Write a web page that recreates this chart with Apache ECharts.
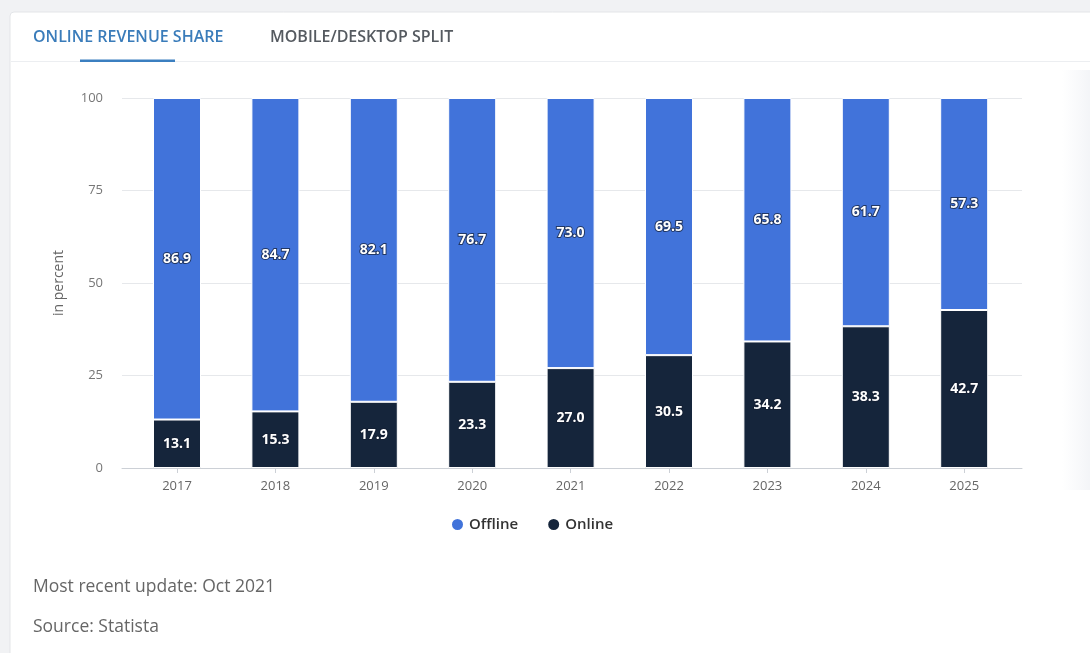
<!DOCTYPE html>
<html>
<head>
<meta charset="utf-8">
<script src="https://cdn.jsdelivr.net/npm/echarts@6/dist/echarts.min.js"></script>
<style>
html,body{margin:0;padding:0;background:#f1f2f4;}
#chart{width:1090px;height:653px;}
</style>
</head>
<body>
<div id="chart"></div>
<script>
const categories = ['2017','2018','2019','2020','2021','2022','2023','2024','2025'];
const offline = [86.9, 84.7, 82.1, 76.7, 73.0, 69.5, 65.8, 61.7, 57.3];
const online = [13.1, 15.3, 17.9, 23.3, 27.0, 30.5, 34.2, 38.3, 42.7];
const yTicks = [0, 25, 50, 75, 100];
const tabs = ['ONLINE REVENUE SHARE', 'MOBILE/DESKTOP SPLIT'];
const footer = ['Most recent update: Oct 2021', 'Source: Statista'];

const FONT = '"Open Sans", "Noto Sans", sans-serif';
const chart = echarts.init(document.getElementById('chart'), null, {renderer: 'canvas'});

const labelStyle = {
  show: true,
  position: 'inside',
  color: '#fff',
  fontFamily: FONT,
  fontWeight: 'bold',
  fontSize: 14,
  textBorderColor: 'rgba(20,30,50,0.7)',
  textBorderWidth: 2,
  formatter: p => p.value.toFixed(1)
};

chart.setOption({
  backgroundColor: 'transparent',
  animation: false,
  textStyle: {fontFamily: FONT},
  graphic: [
    {type: 'rect', shape: {x: 10, y: 12, width: 1100, height: 700, r: 4},
     style: {fill: '#fff', stroke: '#e3e5e8', lineWidth: 1}, z: -10},
    {type: 'rect', shape: {x: 1062, y: 70, width: 40, height: 420},
     style: {fill: new echarts.graphic.LinearGradient(0,0,1,0,[{offset:0,color:'rgba(240,242,246,0)'},{offset:1,color:'#eef0f4'}])}, z: -9},
    {type: 'rect', shape: {x: 11, y: 61, width: 1090, height: 1}, style: {fill: '#eceef1'}, z: -8},
    {type: 'rect', shape: {x: 80, y: 59.5, width: 95, height: 2.5}, style: {fill: '#3b7fc0'}, z: -7},
    {type: 'text', x: 33, y: 37, style: {text: tabs[0], fill: '#3a7cba', font: '600 16px ' + FONT, textVerticalAlign: 'middle'}},
    {type: 'text', x: 270, y: 37, style: {text: tabs[1], fill: '#555a60', font: '600 16px ' + FONT, textVerticalAlign: 'middle'}},
    {type: 'text', x: 33, y: 587, style: {text: footer[0], fill: '#666', font: '17.5px ' + FONT, textVerticalAlign: 'middle'}},
    {type: 'text', x: 33, y: 627, style: {text: footer[1], fill: '#666', font: '17.5px ' + FONT, textVerticalAlign: 'middle'}}
  ],
  legend: {
    data: ['Offline', 'Online'],
    bottom: 116,
    left: 445,
    icon: 'circle',
    itemWidth: 13,
    itemHeight: 13,
    itemGap: 28,
    textStyle: {fontFamily: FONT, fontSize: 15, color: '#333', fontWeight: 600}
  },
  grid: [
    {left: 127.8, right: 76.6, top: 98, bottom: 185},
    {left: 122, right: 68, top: 98, bottom: 185}
  ],
  xAxis: [
    {
      type: 'category', data: categories, gridIndex: 0,
      axisLine: {show: false},
      axisTick: {show: true, alignWithLabel: true, length: 5, lineStyle: {color: '#ccd0d6'}},
      axisLabel: {color: '#666', fontSize: 13, margin: 12, fontFamily: FONT}
    },
    {
      type: 'category', data: categories, gridIndex: 1, show: true,
      axisLine: {show: true, lineStyle: {color: '#ccd0d6'}},
      axisTick: {show: false}, axisLabel: {show: false}
    }
  ],
  yAxis: [
    {type: 'value', gridIndex: 0, min: 0, max: 100, interval: 25, show: false, splitLine: {show: false}},
    {
      type: 'value', gridIndex: 1, min: yTicks[0], max: yTicks[yTicks.length - 1], interval: 25,
      name: 'in percent', nameLocation: 'middle', nameGap: 56,
      nameTextStyle: {color: '#666', fontSize: 14, fontFamily: FONT},
      axisLine: {show: false}, axisTick: {show: false},
      axisLabel: {color: '#777', fontSize: 13, margin: 19, fontFamily: FONT},
      splitLine: {lineStyle: {color: '#e6e8eb'}}
    }
  ],
  series: [
    {
      name: 'Online', type: 'bar', stack: 'total', data: online,
      xAxisIndex: 0, yAxisIndex: 0, barWidth: 48,
      itemStyle: {color: '#15253b', borderColor: '#fff', borderWidth: 1},
      label: labelStyle, z: 3
    },
    {
      name: 'Offline', type: 'bar', stack: 'total', data: offline,
      xAxisIndex: 0, yAxisIndex: 0, barWidth: 48,
      itemStyle: {color: '#4173da', borderColor: '#fff', borderWidth: 1},
      label: labelStyle, z: 3
    }
  ],
  color: ['#15253b', '#4173da']
});
</script>
</body>
</html>
